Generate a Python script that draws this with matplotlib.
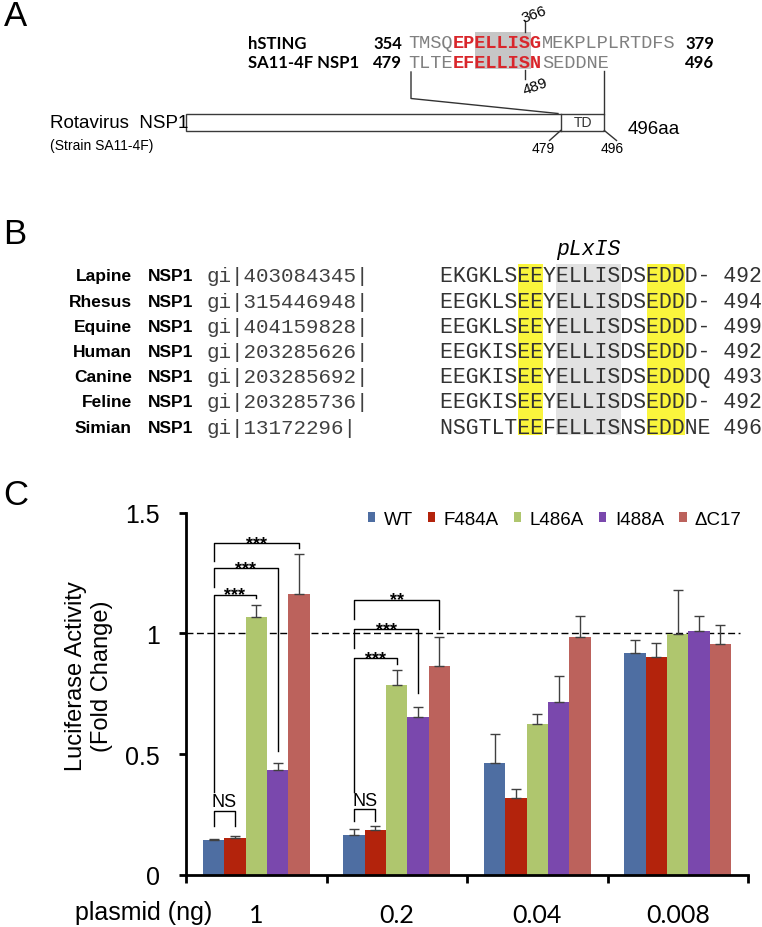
import numpy as np
import matplotlib.pyplot as plt
from matplotlib.patches import Rectangle

plt.rcParams['font.family'] = ['Liberation Sans', 'DejaVu Sans']

# ---- Panel C data (fold change) ----
doses = ['1', '0.2', '0.04', '0.008']
constructs = ['WT', 'F484A', 'L486A', 'I488A', 'ΔC17']
colors = ['#4E6EA2', '#B3230C', '#AFC66E', '#7A48AD', '#BC625C']
wt = [0.144, 0.167, 0.464, 0.919]
f484a = [0.153, 0.188, 0.320, 0.901]
l486a = [1.067, 0.788, 0.626, 0.999]
i488a = [0.433, 0.652, 0.716, 1.008]
dc17 = [1.163, 0.864, 0.985, 0.955]
wt_err = [0.007, 0.022, 0.119, 0.055]
f484a_err = [0.008, 0.015, 0.035, 0.058]
l486a_err = [0.051, 0.062, 0.042, 0.182]
i488a_err = [0.030, 0.042, 0.108, 0.065]
dc17_err = [0.165, 0.120, 0.088, 0.078]

# significance brackets: (dose idx, bar a, bar b, label, top, left foot, right foot)
brackets = [
    (0, 0, 1, 'NS', 0.265, 0.202, 0.202),
    (0, 0, 2, '***', 1.159, 0.342, 1.147),
    (0, 0, 3, '***', 1.269, 1.191, 0.512),
    (0, 0, 4, '***', 1.372, 1.300, 1.355),
    (1, 0, 1, 'NS', 0.272, 0.223, 0.223),
    (1, 0, 2, '***', 0.896, 0.342, 0.872),
    (1, 0, 3, '***', 1.016, 0.941, 0.754),
    (1, 0, 4, '**', 1.138, 1.060, 1.019),
]

# ---- Panel B data ----
species = ['Lapine', 'Rhesus', 'Equine', 'Human', 'Canine', 'Feline', 'Simian']
gi_ids = ['403084345', '315446948', '404159828', '203285626',
          '203285692', '203285736', '13172296']
seqs = ['EKGKLSEEYELLISDSEDDD-', 'EEGKLSEEYELLISDSEDDD-',
        'EEGKLSEEYELLISDSEDDD-', 'EEGKISEEYELLISDSEDDD-',
        'EEGKISEEYELLISDSEDDDQ', 'EEGKISEEYELLISDSEDDD-',
        'NSGTLTEEFELLISNSEDDNE']
seq_ends = [492, 494, 499, 492, 493, 492, 496]

# ---- Panel A data ----
sting_parts = ['TMSQ', 'EPELLISG', 'MEKPLPLRTDFS']
nsp1_parts = ['TLTE', 'EFELLISN', 'SEDDNE']

DPI = 100
fig = plt.figure(figsize=(7.62, 9.28), dpi=DPI)

# overlay in pixel coordinates for panels A and B and loose labels
ov = fig.add_axes([0, 0, 1, 1])
ov.set_xlim(0, 762)
ov.set_ylim(928, 0)
ov.axis('off')

def cw(fs):
    # monospace advance (Liberation Mono = 0.6 em) in pixels
    return fs * DPI / 72 * 0.6

for lab, (lx, ly) in zip('ABC', [(15, 17), (15, 235), (16, 496)]):
    ov.text(lx, ly, lab, fontsize=25, ha='center', va='center')

# --- Panel A ---
grey_txt = '#808080'
red_txt = '#D9262B'
fsA = 13.4
cA = cw(fsA)
x0A = 408
rows_y = [44, 63]
ov.add_patch(Rectangle((x0A + 6 * cA, 33), 5 * cA, 37, color='#C6C6C6', lw=0, zorder=1))
for parts, yy, lab, n0, n1 in [(sting_parts, rows_y[0], 'hSTING', '354', '379'),
                               (nsp1_parts, rows_y[1], 'SA11-4F NSP1', '479', '496')]:
    ov.text(248, yy, lab, fontfamily='Lato', fontweight='bold', fontsize=12, va='center')
    ov.text(402, yy, n0, fontfamily='Lato', fontweight='bold', fontsize=12, va='center', ha='right')
    ov.text(685, yy, n1, fontfamily='Lato', fontweight='bold', fontsize=12, va='center')
    off = 0
    for k, p in enumerate(parts):
        ov.text(x0A + off * cA, yy, p, fontfamily='Liberation Mono', fontsize=fsA,
                color=red_txt if k == 1 else grey_txt,
                fontweight='bold' if k == 1 else 'normal', va='center', zorder=2)
        off += len(p)

xt = x0A + 10.5 * cA
ov.plot([xt, xt], [22, 33], color='#333333', lw=1)
ov.plot([xt, xt], [71, 80], color='#333333', lw=1)
ov.text(534, 15, '366', fontsize=11, rotation=20, ha='center', va='center')
ov.text(535, 87, '489', fontsize=11, rotation=20, ha='center', va='center')

line_c = '#333333'
ov.plot([411, 411, 558], [73, 99.5, 114.5], color=line_c, lw=1)
ov.plot([604.3, 604.3], [72, 114.5], color=line_c, lw=1)
ov.add_patch(Rectangle((185.7, 114.5), 418.6, 17, facecolor='white', edgecolor='#3A3A3A', lw=1))
ov.plot([560.7, 560.7], [114.5, 131.5], color='#3A3A3A', lw=1)
ov.text(582.5, 123, 'TD', fontsize=10, color='#333333', ha='center', va='center')
ov.plot([560.7, 549.5], [131.5, 141.5], color=line_c, lw=1)
ov.plot([604.3, 616.5], [131.5, 141.5], color=line_c, lw=1)
ov.text(543, 149, '479', fontsize=10, ha='center', va='center')
ov.text(612, 149, '496', fontsize=10, ha='center', va='center')
ov.text(628, 130, '496aa', fontsize=13.5, va='center')
ov.text(50, 123, 'Rotavirus  NSP1', fontsize=13.5, va='center')
ov.text(50, 146, '(Strain SA11-4F)', fontsize=10, va='center')

# --- Panel B ---
fsB = 15.5
cB = cw(fsB)
x0B = 440
row0, dy = 277, 25.17
top_hl, bot_hl = 265, 436
for c0, n, col in [(6, 2, '#FAF53C'), (9, 5, '#E2E2E2'), (16, 3, '#FAF53C')]:
    ov.add_patch(Rectangle((x0B + c0 * cB, top_hl), n * cB, bot_hl - top_hl,
                           color=col, lw=0, zorder=1))
ov.text(x0B + 11.5 * cB, 250, 'pLxIS', fontfamily='Liberation Mono', style='italic',
        fontsize=fsB, ha='center', va='center')
for i, (sp, gi, sq, end) in enumerate(zip(species, gi_ids, seqs, seq_ends)):
    yy = row0 + i * dy
    ov.text(132, yy, sp, fontsize=12.5, fontweight='bold', ha='right', va='center')
    ov.text(148, yy, 'NSP1', fontsize=12.5, fontweight='bold', va='center')
    ov.text(207, yy, 'gi|%s|' % gi, fontfamily='Liberation Mono', fontsize=15,
            color='#404040', va='center')
    ov.text(x0B, yy, '%s %d' % (sq, end), fontfamily='Liberation Mono', fontsize=fsB,
            color='#333333', va='center', zorder=2)

# --- Panel C ---
ax = fig.add_axes([186 / 762, 1 - 876 / 928, 562 / 762, 362.5 / 928])
x = np.arange(len(doses))
w = 0.152
series = [(wt, wt_err), (f484a, f484a_err), (l486a, l486a_err),
          (i488a, i488a_err), (dc17, dc17_err)]
for j, (vals, errs) in enumerate(series):
    ax.bar(x + (j - 2) * w, vals, w, color=colors[j], label=constructs[j],
           yerr=[np.zeros(len(errs)), errs], zorder=2,
           error_kw=dict(ecolor='#404040', elinewidth=1, capsize=3.5, capthick=1))

ax.plot([-0.5, 3.44], [1, 1], color='black', lw=1, ls=(0, (5, 2.5)), zorder=1)

for g, a, b, lab, top, fa, fb in brackets:
    xa = g + (a - 2) * w
    xb = g + (b - 2) * w
    ax.plot([xa, xa, xb, xb], [fa, top, top, fb], color='black', lw=1, zorder=3)
    if lab == 'NS':
        ax.annotate(lab, ((xa + xb) / 2, top), xytext=(0, 3.3), textcoords='offset points',
                    ha='center', va='baseline', fontsize=13)
    else:
        ax.annotate(lab, ((xa + xb) / 2, top), xytext=(0, -3.2), textcoords='offset points',
                    ha='center', va='baseline', fontsize=13, fontweight='bold')

ax.set_xlim(-0.5, 3.5)
ax.set_ylim(0, 1.5)
ax.spines[['top', 'right']].set_visible(False)
ax.spines[['left', 'bottom']].set_linewidth(2)
ax.set_yticks([0, 0.5, 1, 1.5])
ax.set_yticklabels(['0', '0.5', '1', '1.5'])
ax.tick_params(axis='y', direction='out', length=5, width=2, pad=14, labelsize=18)
ax.set_xticks(x)
ax.set_xticklabels(doses, fontfamily='Lato', fontsize=18)
ax.tick_params(axis='x', which='major', length=0, pad=20)
ax.set_xticks(np.arange(-0.5, 4, 1), minor=True)
ax.tick_params(axis='x', which='minor', direction='out', length=6, width=2)

ax.legend(ncol=5, loc='center right', bbox_to_anchor=(0.989, 0.982), frameon=False,
          fontsize=13.5, handlelength=0.4, handleheight=0.4, handletextpad=0.45,
          columnspacing=0.8, borderpad=0, borderaxespad=0)

ov.text(89, 676, 'Luciferase Activity\n(Fold Change)', fontsize=17, rotation=90,
        ha='center', va='center', multialignment='center', linespacing=1.25)
ov.text(75, 913, 'plasmid (ng)', fontsize=18, va='center')

fig.savefig('out.png', dpi=DPI)
